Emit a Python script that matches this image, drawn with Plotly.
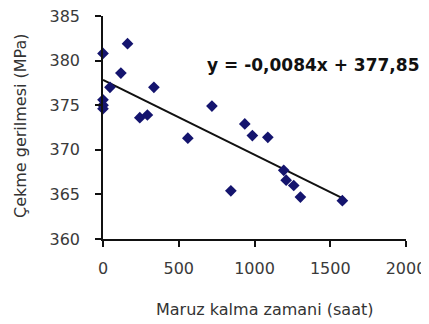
import plotly.graph_objects as go

# Data
exposure_hours = [0, 0, 0, 0, 46, 118, 162, 243, 293, 336, 560, 719, 844, 936, 986, 1088, 1193, 1209, 1259, 1303, 1580]
tensile_mpa = [380.8, 375.6, 375.0, 374.6, 377.0, 378.6, 381.9, 373.6, 373.9, 377.0, 371.3, 374.9, 365.4, 372.9, 371.6, 371.4, 367.7, 366.6, 366.0, 364.7, 364.3]
trend_slope = -0.0084
trend_intercept = 377.85
x_ticks = [0, 500, 1000, 1500, 2000]
y_ticks = [360, 365, 370, 375, 380, 385]

trend_x = [0, max(exposure_hours)]
trend_y = [trend_intercept + trend_slope * v for v in trend_x]

fig = go.Figure()
fig.add_trace(go.Scatter(
    x=trend_x, y=trend_y, mode="lines",
    line=dict(color="#111111", width=2), cliponaxis=False, hoverinfo="skip"))
fig.add_trace(go.Scatter(
    x=exposure_hours, y=tensile_mpa, mode="markers",
    marker=dict(symbol="diamond", size=9, color="#14146e"),
    cliponaxis=False))

tick_font = dict(family="DejaVu Sans", size=16, color="#3a3a3a")
# the page body adds an 8px margin, so the figure is sized/placed to compensate
fig.update_layout(
    width=421, height=316, autosize=False,
    margin=dict(l=95, r=23, t=8, b=85, autoexpand=False),
    paper_bgcolor="white", plot_bgcolor="white",
    showlegend=False,
    xaxis=dict(range=[0, 2000], tickvals=x_ticks, showgrid=False, zeroline=False,
               automargin=False, ticklabeloverflow="allow",
               showline=True, linecolor="#111111", linewidth=1.5,
               ticks="outside", ticklen=6, tickcolor="#111111", tickwidth=1.5,
               tickfont=tick_font, ticklabelstandoff=8),
    yaxis=dict(range=[360, 385], tickvals=y_ticks, showgrid=False, zeroline=False,
               automargin=False, ticklabeloverflow="allow",
               showline=True, linecolor="#111111", linewidth=1.5,
               ticks="outside", ticklen=6, tickcolor="#111111", tickwidth=1.5,
               tickfont=tick_font, ticklabelstandoff=12),
    annotations=[
        dict(text="Maruz kalma zamani (saat)", xref="paper", yref="paper",
             x=0.535, y=-0.318, xanchor="center", yanchor="middle", showarrow=False,
             font=dict(family="DejaVu Sans", size=16, color="#333333")),
        dict(text="Çekme gerilmesi (MPa)", xref="paper", yref="paper",
             x=-0.274, y=0.511, xanchor="center", yanchor="middle", showarrow=False,
             textangle=-90,
             font=dict(family="DejaVu Sans", size=16, color="#333333")),
        dict(text="<b>y = -0,0084x + 377,85</b>", xref="paper", yref="paper",
             x=0.693, y=0.78, xanchor="center", yanchor="middle", showarrow=False,
             font=dict(family="DejaVu Sans", size=17, color="#111111")),
    ],
)

fig.write_html("out.html")
